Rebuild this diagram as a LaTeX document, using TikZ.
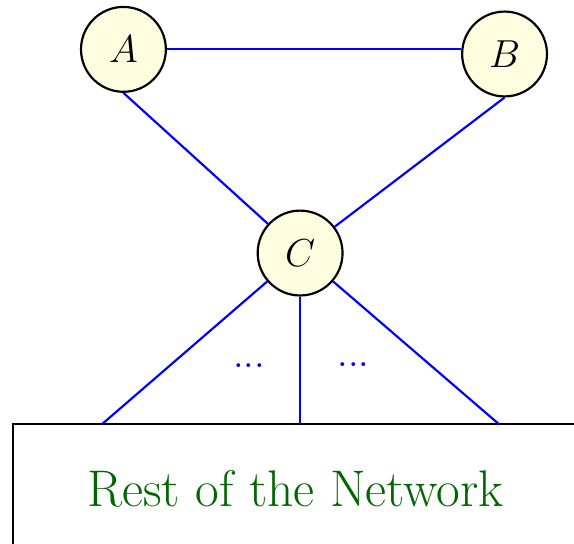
\documentclass[tikz,border=0pt]{standalone}
\usepackage{tikz}
\usepackage{xcolor}

\begin{document}
\begin{tikzpicture}[
    peer/.style={circle,draw,thick,fill=yellow!12,minimum size=1.1cm,font=\Large},
    link/.style={blue,thick}
  ]
            \useasboundingbox (-3.89,-3.77) rectangle (3.55,3.28);

            % Draw circles
            \node[peer] (A) at (-2.29,2.64) {$A$};
            \node[peer] (B) at (2.65,2.58) {$B$};
            \node[peer] (C) at (0,0) {$C$};

            % Rest of the network
            \draw[thick] (-3.72,-2.22) rectangle (4.5,-4.5);
            \node[text=green!40!black,font=\fontsize{19}{23}\selectfont] (rest) at (-0.06,-3.05) {Rest of the Network};
            \coordinate (n1) at (-2.57,-2.22);
            \coordinate (n2) at (0,-2.22);
            \coordinate (n3) at (2.58,-2.22);

            % Connect circles
            \draw[link] (A) -- (A -| B.west);
            \draw[link] (A.south) -- (C);
            \draw[link] (B.south) -- (C);
            \draw[link] (C) -- (n1);
            \draw[link] (C) -- (n2);
            \draw[link] (C) -- (n3);

            % Dots
            \node[blue,font=\Large] (dl) at (-0.66,-1.46) {...};
            \node[blue,font=\Large] (dr) at (0.69,-1.45) {...};
          \end{tikzpicture}
\end{document}
